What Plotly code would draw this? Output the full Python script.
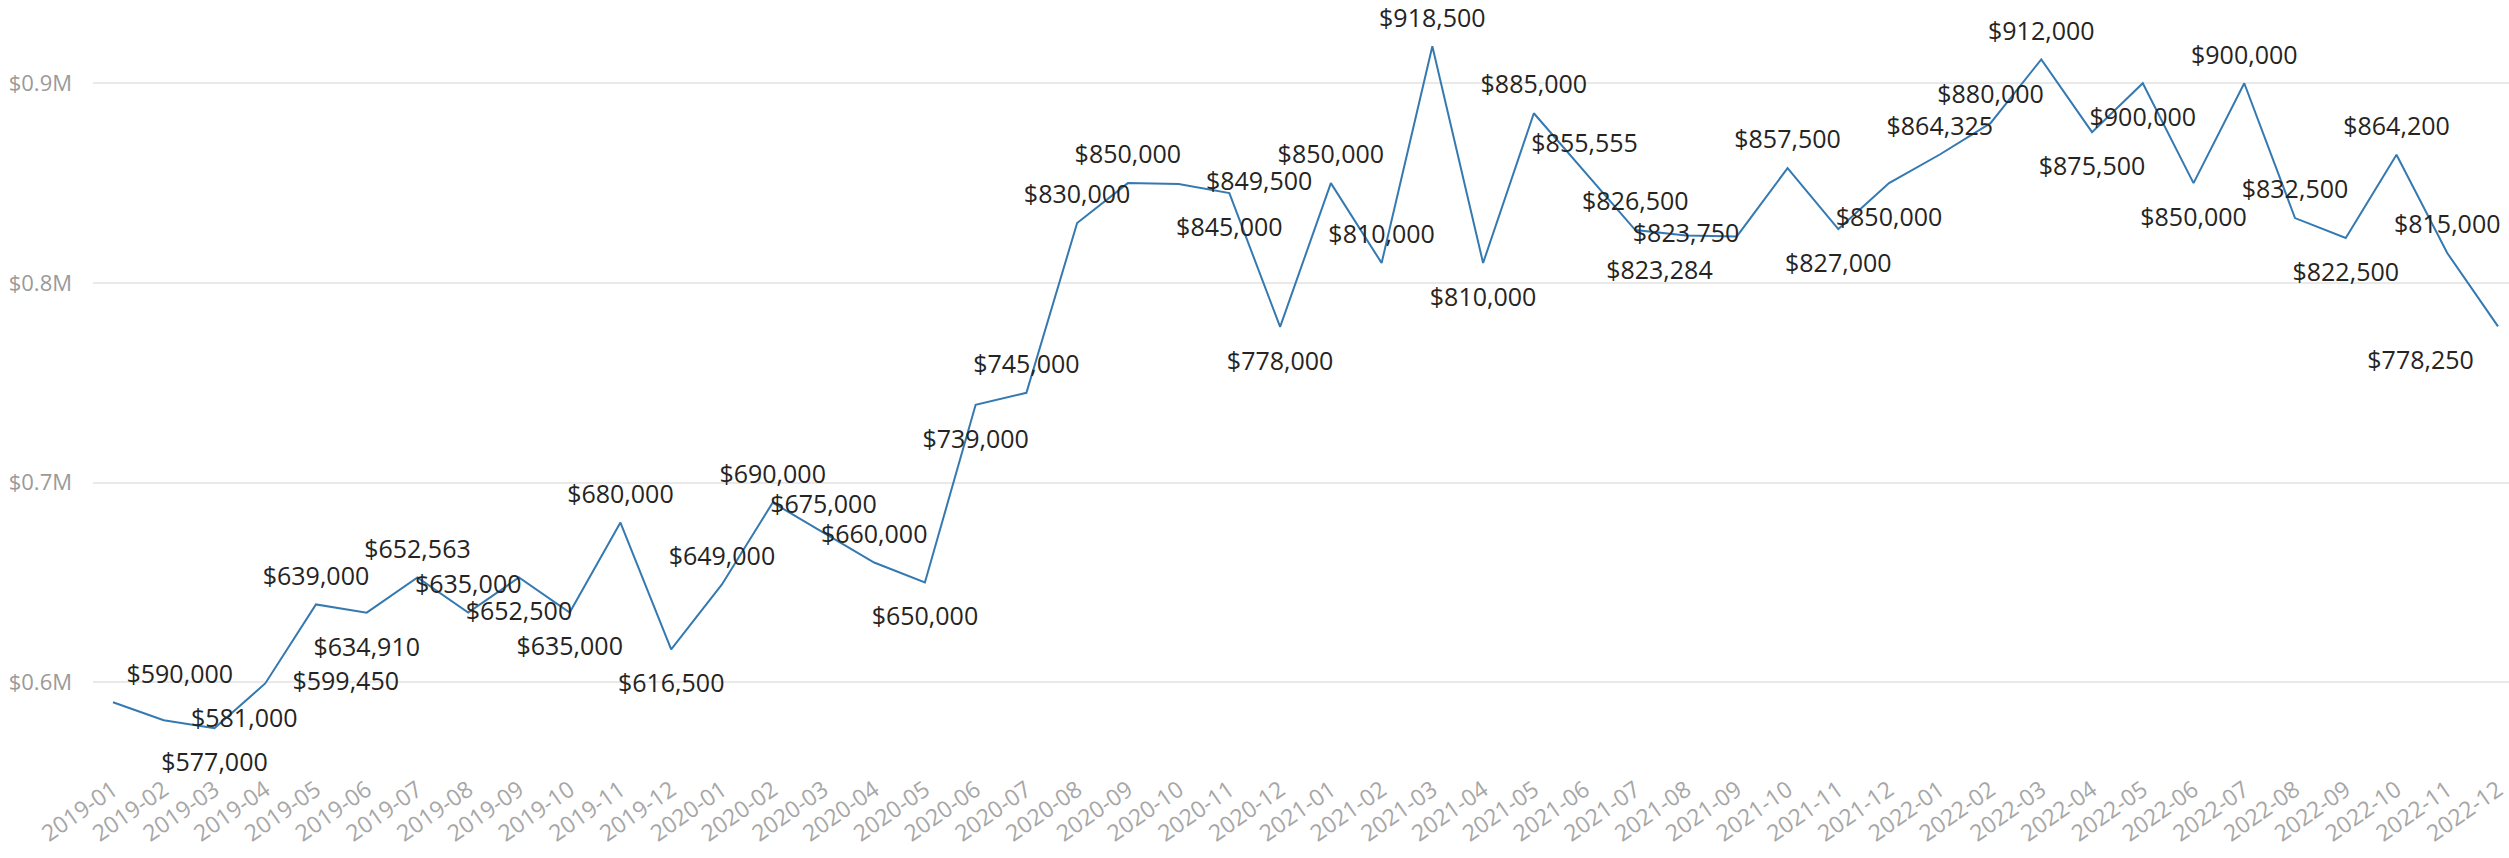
import plotly.graph_objects as go

# ---- data ----
MONTHS = [
    "2019-01", "2019-02", "2019-03", "2019-04", "2019-05", "2019-06",
    "2019-07", "2019-08", "2019-09", "2019-10", "2019-11", "2019-12",
    "2020-01", "2020-02", "2020-03", "2020-04", "2020-05", "2020-06",
    "2020-07", "2020-08", "2020-09", "2020-10", "2020-11", "2020-12",
    "2021-01", "2021-02", "2021-03", "2021-04", "2021-05", "2021-06",
    "2021-07", "2021-08", "2021-09", "2021-10", "2021-11", "2021-12",
    "2022-01", "2022-02", "2022-03", "2022-04", "2022-05", "2022-06",
    "2022-07", "2022-08", "2022-09", "2022-10", "2022-11", "2022-12",
]
PRICES = [
    590000, 581000, 577000, 599450, 639000, 634910, 652563, 635000, 652500, 635000, 680000, 616500,
    649000, 690000, 675000, 660000, 650000, 739000, 745000, 830000, 850000, 849500, 845000, 778000,
    850000, 810000, 918500, 810000, 885000, 855555, 826500, 823750, 823284, 857500, 827000, 850000,
    864325, 880000, 912000, 875500, 900000, 850000, 900000, 832500, 822500, 864200, 815000, 778250,
]
Y_TICKS = [600000, 700000, 800000, 900000]
Y_TICK_TEXT = ["$0.6M", "$0.7M", "$0.8M", "$0.9M"]

# ---- label placement (style) ----
LABEL_POS = [
    "top right", "middle right", "bottom center", "middle right", "top center", "bottom center",
    "top center", "top center", "bottom center", "bottom center", "top center", "bottom center",
    "top center", "top center", "top center", "top center", "bottom center", "bottom center",
    "top center", "top center", "top center", "middle right", "bottom center", "bottom center",
    "top center", "top center", "top center", "bottom center", "top center", "top center",
    "top center", "middle center", "bottom left", "top center", "bottom center", "bottom center",
    "top center", "top center", "top center", "bottom center", "bottom center", "bottom center",
    "top center", "top center", "bottom center", "top center", "top center", "bottom left",
]
GAP_SIZE = {"top": 20, "bottom": 37, "middle": 42}
label_gap = [GAP_SIZE[p.split()[0]] for p in LABEL_POS]
label_text = ["${:,}".format(v) for v in PRICES]

FONT = "Open Sans, Segoe UI, sans-serif"
LINE_COLOR = "#3579b1"

fig = go.Figure()
fig.add_trace(go.Scatter(
    x=MONTHS, y=PRICES, mode="lines",
    line=dict(color=LINE_COLOR, width=2),
    hoverinfo="skip", showlegend=False,
))
fig.add_trace(go.Scatter(
    x=MONTHS, y=PRICES, mode="markers+text",
    marker=dict(size=label_gap, color="rgba(0,0,0,0)", line=dict(width=0)),
    text=label_text, textposition=LABEL_POS,
    textfont=dict(family=FONT, size=25, color="#252423"),
    cliponaxis=False, hoverinfo="skip", showlegend=False,
))

fig.update_layout(
    width=2509, height=858,
    margin=dict(l=93, r=0, t=0, b=87, autoexpand=False),
    paper_bgcolor="white", plot_bgcolor="white",
    font=dict(family=FONT),
    xaxis=dict(
        type="category", range=[-0.394, 47.217],
        tickmode="array", tickvals=MONTHS, ticktext=MONTHS,
        tickangle=-35, tickfont=dict(family=FONT, size=23, color="#a6a6a6"),
        showgrid=False, zeroline=False, showline=False, ticks="",
        automargin=False, fixedrange=True,
    ),
    yaxis=dict(
        range=[555600, 941700],
        tickmode="array", tickvals=Y_TICKS, ticktext=Y_TICK_TEXT,
        tickfont=dict(family=FONT, size=22, color="#9a9a9a"),
        showgrid=True, gridcolor="#e9e9e9", gridwidth=1.5,
        zeroline=False, showline=False, ticks="",
        ticklabelstandoff=20, automargin=False, fixedrange=True,
    ),
)

fig.write_html("out.html")
